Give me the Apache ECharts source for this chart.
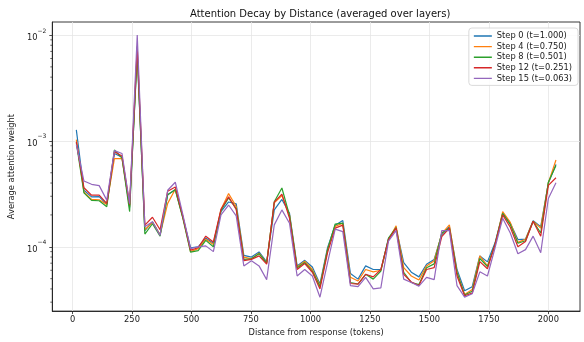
<!DOCTYPE html>
<html><head><meta charset="utf-8">
<script src="https://cdn.jsdelivr.net/npm/echarts@6/dist/echarts.min.js"></script>
<style>html,body{margin:0;padding:0;background:#fff}#c{width:584px;height:342px}</style>
</head><body><div id="c"></div>
<script>
const distances = [16,48,80,112,144,176,208,240,272,304,336,368,400,432,464,496,528,560,592,624,656,688,720,752,784,816,848,880,912,944,976,1008,1040,1072,1104,1136,1168,1200,1232,1264,1296,1328,1360,1392,1424,1456,1488,1520,1552,1584,1616,1648,1680,1712,1744,1776,1808,1840,1872,1904,1936,1968,2000,2032];
const step0 = [1.27e-3,3.42e-4,2.96e-4,2.98e-4,2.52e-4,7.6e-4,7.0e-4,2.35e-4,6.5e-3,1.42e-4,1.72e-4,1.3e-4,3.1e-4,3.47e-4,1.9e-4,9.8e-5,1.0e-4,1.21e-4,1.08e-4,2.15e-4,2.65e-4,2.54e-4,8.3e-5,8.0e-5,8.95e-5,7.2e-5,2.23e-4,2.8e-4,2.07e-4,6.6e-5,7.45e-5,6.45e-5,4.46e-5,9.8e-5,1.6e-4,1.77e-4,5.6e-5,4.95e-5,6.6e-5,6.1e-5,6.1e-5,1.19e-4,1.5e-4,7.1e-5,5.75e-5,5.2e-5,6.85e-5,7.6e-5,1.3e-4,1.55e-4,6.1e-5,3.85e-5,4.2e-5,8.2e-5,7.2e-5,1.09e-4,2.07e-4,1.67e-4,1.17e-4,1.18e-4,1.76e-4,1.55e-4,4.0e-4,6.0e-4];
const step4 = [1.03e-3,3.30e-4,2.80e-4,2.78e-4,2.51e-4,6.8e-4,6.8e-4,2.4e-4,7.2e-3,1.45e-4,1.7e-4,1.3e-4,2.57e-4,3.5e-4,1.9e-4,9.0e-5,9.6e-5,1.18e-4,1.05e-4,2.25e-4,3.18e-4,2.4e-4,8.0e-5,7.7e-5,8.7e-5,7.0e-5,2.6e-4,3.05e-4,2.0e-4,6.4e-5,7.3e-5,6.1e-5,4.3e-5,9.4e-5,1.56e-4,1.67e-4,5.15e-5,4.75e-5,6.1e-5,5.8e-5,6.0e-5,1.16e-4,1.58e-4,6.35e-5,5.3e-5,4.85e-5,6.6e-5,7.4e-5,1.33e-4,1.61e-4,5.8e-5,3.55e-5,3.95e-5,8.2e-5,6.6e-5,1.03e-4,2.15e-4,1.7e-4,1.1e-4,1.18e-4,1.74e-4,1.5e-4,4.0e-4,6.6e-4];
const step8 = [9.6e-4,3.23e-4,2.74e-4,2.72e-4,2.39e-4,8.2e-4,6.9e-4,2.15e-4,7.0e-3,1.32e-4,1.65e-4,1.26e-4,3.1e-4,3.45e-4,1.85e-4,8.9e-5,9.2e-5,1.15e-4,1.0e-4,2.2e-4,2.9e-4,2.3e-4,7.6e-5,7.7e-5,8.6e-5,7.0e-5,2.66e-4,3.59e-4,1.98e-4,6.3e-5,7.1e-5,5.9e-5,4.2e-5,9.4e-5,1.64e-4,1.67e-4,4.6e-5,4.45e-5,5.5e-5,4.95e-5,5.9e-5,1.21e-4,1.52e-4,5.75e-5,4.6e-5,4.4e-5,6.35e-5,6.9e-5,1.35e-4,1.5e-4,5.7e-5,3.5e-5,3.8e-5,7.75e-5,6.5e-5,1.06e-4,2.07e-4,1.62e-4,1.08e-4,1.14e-4,1.74e-4,1.35e-4,4.08e-4,5.85e-4];
const step12 = [9.8e-4,3.61e-4,3.07e-4,3.07e-4,2.57e-4,7.9e-4,7.2e-4,2.5e-4,7.8e-3,1.6e-4,1.9e-4,1.45e-4,3.35e-4,3.67e-4,1.92e-4,9.3e-5,9.8e-5,1.26e-4,1.11e-4,2.26e-4,2.96e-4,2.25e-4,7.4e-5,7.6e-5,8.2e-5,6.85e-5,2.64e-4,3.14e-4,1.86e-4,6.1e-5,6.95e-5,5.75e-5,4.0e-5,8.8e-5,1.5e-4,1.6e-4,4.5e-5,4.45e-5,5.5e-5,5.2e-5,6.1e-5,1.17e-4,1.5e-4,5.5e-5,4.65e-5,4.3e-5,6.1e-5,6.35e-5,1.25e-4,1.5e-4,5.3e-5,3.45e-5,3.65e-5,7.25e-5,6.2e-5,1.06e-4,2.0e-4,1.53e-4,1.0e-4,1.12e-4,1.74e-4,1.26e-4,3.8e-4,4.49e-4];
const step15 = [9.2e-4,4.18e-4,3.89e-4,3.78e-4,2.76e-4,8.1e-4,7.6e-4,2.55e-4,1.0e-2,1.55e-4,1.72e-4,1.28e-4,3.42e-4,4.07e-4,2.0e-4,9.6e-5,1.0e-4,1.02e-4,9.0e-5,2.0e-4,2.48e-4,1.96e-4,6.6e-5,7.4e-5,6.6e-5,4.9e-5,1.61e-4,2.23e-4,1.67e-4,5.3e-5,6.1e-5,5.3e-5,3.34e-5,7.1e-5,1.47e-4,1.39e-4,4.3e-5,4.2e-5,5.15e-5,4.0e-5,4.1e-5,1.13e-4,1.42e-4,4.95e-5,4.6e-5,4.25e-5,5.15e-5,4.9e-5,1.42e-4,1.42e-4,4.3e-5,3.35e-5,3.6e-5,5.8e-5,5.3e-5,9.8e-5,1.86e-4,1.35e-4,8.6e-5,9.4e-5,1.26e-4,8.8e-5,2.86e-4,4.03e-4];
const seriesNames = ['Step 0 (t=1.000)','Step 4 (t=0.750)','Step 8 (t=0.501)','Step 12 (t=0.251)','Step 15 (t=0.063)'];
const xTicks = [0,250,500,750,1000,1250,1500,1750,2000];
const yTicks = [1e-4,1e-3,1e-2];
const yMinorTicks = [3e-5,4e-5,5e-5,6e-5,7e-5,8e-5,9e-5,2e-4,3e-4,4e-4,5e-4,6e-4,7e-4,8e-4,9e-4,2e-3,3e-3,4e-3,5e-3,6e-3,7e-3,8e-3,9e-3];

const colors = ['#1f77b4','#ff7f0e','#2ca02c','#d62728','#9467bd'];
const allSteps = [step0, step4, step8, step12, step15];
const FONT = 'DejaVu Sans';
const LEGEND_ICON = 'path://M0,3.3 h18 v1.4 h-18 z M0,0 h0.01 v0.01 h-0.01 z M17.99,7.99 h0.01 v0.01 h-0.01 z';
const chart = echarts.init(document.getElementById('c'), null, {renderer:'canvas'});

const lineSeries = allSteps.map((arr, k) => ({
  name: seriesNames[k], type: 'line', symbol: 'none', showSymbol: false,
  data: distances.map((d, i) => [d, arr[i]]),
  lineStyle: {width: 1.2, color: colors[k]}, itemStyle: {color: colors[k]},
  z: 2 + k
}));

const minorSeries = {
  type: 'custom', silent: true, clip: false, z: 10,
  data: yMinorTicks.map(v => [0, v]),
  renderItem: (params, api) => {
    const p = api.coord([0, api.value(1)]);
    const x0 = params.coordSys.x;
    return {type: 'line', shape: {x1: x0 - 2, y1: p[1], x2: x0, y2: p[1]}, style: {stroke: '#222', lineWidth: 0.7}};
  }
};

chart.setOption({
  animation: false,
  title: {text: 'Attention Decay by Distance (averaged over layers)', left: 190, top: 9, padding: 0,
    textStyle: {fontFamily: FONT, fontSize: 10, fontWeight: 'normal', color: '#111'}},
  grid: {left: 52, right: 4, top: 22, bottom: 26, show: true, borderColor: '#222', borderWidth: 0.9, backgroundColor: 'transparent'},
  legend: {orient: 'vertical', right: 6, top: 28, padding: [4, 6, 3, 5], itemGap: 2.6, itemWidth: 18, itemHeight: 8,
    data: seriesNames.map((n, k) => ({name: n, icon: LEGEND_ICON, itemStyle: {color: colors[k]}})),
    backgroundColor: 'rgba(255,255,255,0.85)', borderColor: '#d0d0d0', borderWidth: 0.8, borderRadius: 3,
    textStyle: {fontFamily: FONT, fontSize: 8.3, color: '#222'}},
  xAxis: {type: 'value', min: -85, max: 2133,
    name: 'Distance from response (tokens)', nameLocation: 'middle', nameGap: 15,
    nameTextStyle: {fontFamily: FONT, fontSize: 8.3, color: '#222'},
    axisLine: {show: true, onZero: false, lineStyle: {color: '#222', width: 0.9}},
    axisTick: {show: true, length: 3, customValues: xTicks, lineStyle: {color: '#222', width: 0.8}},
    axisLabel: {customValues: xTicks, margin: 5, fontFamily: FONT, fontSize: 8.3, color: '#222', formatter: v => String(v)},
    splitLine: {show: true, lineStyle: {color: '#e6e6e6', width: 0.8}}},
  yAxis: {type: 'log', logBase: 10, min: 2.47e-5, max: 0.01327,
    name: 'Average attention weight', nameLocation: 'middle', nameGap: 27,
    nameTextStyle: {fontFamily: FONT, fontSize: 8.3, color: '#222'},
    axisLine: {show: true, onZero: false, lineStyle: {color: '#222', width: 0.9}},
    axisTick: {show: true, length: 3, customValues: yTicks, lineStyle: {color: '#222', width: 0.8}},
    axisLabel: {customValues: yTicks, margin: 6, fontFamily: FONT, color: '#222',
      formatter: v => '{b|10}{s|\u2212' + Math.abs(Math.round(Math.log10(v))) + '}',
      rich: {b: {fontFamily: FONT, fontSize: 8.3, color: '#222', lineHeight: 14, verticalAlign: 'bottom'},
             s: {fontFamily: FONT, fontSize: 6, color: '#222', lineHeight: 14, verticalAlign: 'top'}}},
    splitLine: {show: true, lineStyle: {color: '#e6e6e6', width: 0.8}}},
  series: lineSeries.concat([minorSeries])
});
</script></body></html>
